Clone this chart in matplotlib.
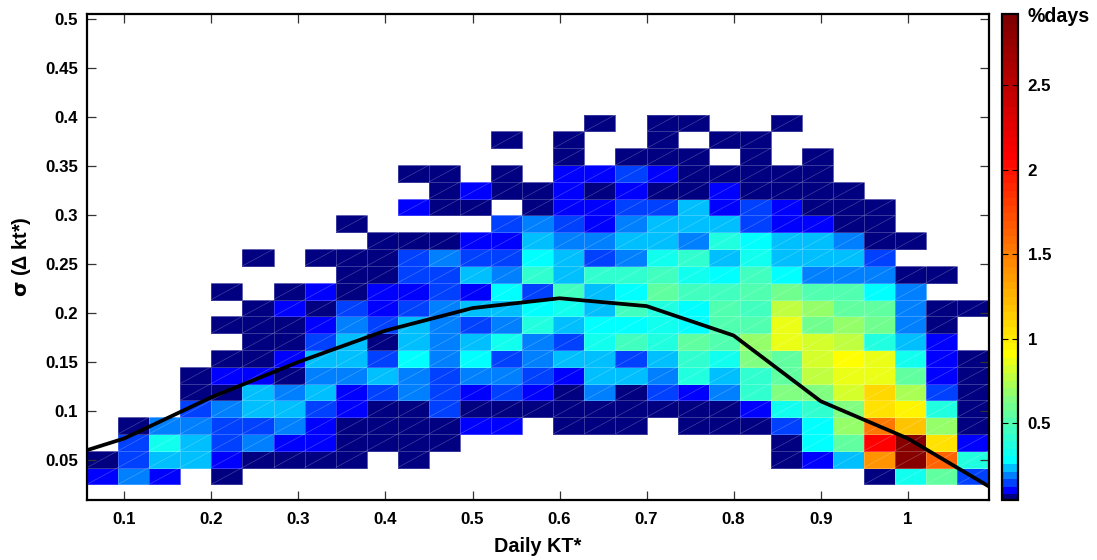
import numpy as np
import matplotlib
matplotlib.use("Agg")
import matplotlib.pyplot as plt
from matplotlib.colors import LinearSegmentedColormap
from matplotlib.collections import LineCollection

plt.rcParams['font.family'] = ['Liberation Sans', 'DejaVu Sans']
plt.rcParams['font.weight'] = 'bold'

n = np.nan
# %days per cell, one list per row of the grid, bottom row first
row00 = [.11,.20,.11,n,.07,n,n,n,n,n, n,n,n,n,n,n,n,n,n,n, n,n,n,n,n,.07,.34,.56,.16]
row01 = [.07,.16,.25,.25,.11,.07,.07,.07,.07,n, .07,n,n,n,n,n,n,n,n,n, n,n,.07,.11,.25,1.41,2.87,1.64,.38]
row02 = [n,.16,.34,.25,.16,.20,.11,.11,.07,.07, .07,.07,n,n,n,n,n,n,n,n, n,n,.07,.29,.56,2.09,2.87,1.06,.11]
row03 = [n,.07,.20,.20,.16,.16,.20,.11,.07,.07, .07,.07,.11,.11,n,.07,.07,.07,n,.07, .07,.07,.16,.29,.70,1.55,1.19,.70,.07]
row04 = [n,n,n,.16,.20,.25,.25,.16,.11,.07, .07,.16,.07,.07,.07,.07,.07,.07,.07,.07, .07,.11,.34,.43,.65,1.06,.97,.38,.07]
row05 = [n,n,n,.07,.07,.25,.20,.25,.11,.16, .20,.16,.11,.16,.11,.07,.20,.07,.16,.11, .20,.43,.65,.65,.83,1.10,.74,.16,.07]
row06 = [n,n,n,.07,.11,.11,.07,.20,.20,.25, .20,.16,.20,.20,.16,.11,.25,.25,.20,.38, .25,.43,.56,.79,.88,.88,.56,.11,.07]
row07 = [n,n,n,n,.07,.07,.11,.25,.25,.16, .29,.20,.29,.16,.20,.25,.25,.16,.25,.43, .34,.65,.56,.83,.92,.88,.34,.11,.07]
row08 = [n,n,n,n,n,.07,.07,.16,.25,.07, .25,.20,.25,.34,.20,.16,.34,.47,.38,.56, .52,.70,.88,.83,.79,.38,.25,.11,n]
row09 = [n,n,n,n,.07,.07,.07,.11,.20,.16, .25,.20,.16,.20,.38,.25,.29,.29,.34,.29, .52,.52,.88,.61,.70,.61,.20,.07,n]
row10 = [n,n,n,n,n,.07,.11,.07,.16,.11, .16,.20,.25,.25,.29,.34,.25,.47,.38,.29, .52,.47,.79,.70,.56,.56,.20,.07,.07]
row11 = [n,n,n,n,.07,n,.07,.11,.07,.11, .11,.16,.11,.29,.16,.47,.25,.29,.56,.47, .47,.52,.61,.52,.52,.29,.20,n,n]
row12 = [n,n,n,n,n,n,n,n,.07,.07, .16,.16,.25,.20,.43,.25,.43,.43,.47,.34, .29,.47,.29,.20,.20,.20,.07,.07,n]
row13 = [n,n,n,n,n,.07,n,.07,.07,.07, .16,.20,.16,.16,.29,.25,.16,.20,.34,.43, .25,.34,.25,.25,.25,.16,n,n,n]
row14 = [n,n,n,n,n,n,n,n,n,.07, .07,.07,.11,.11,.25,.20,.20,.25,.25,.20, .38,.29,.25,.25,.20,.07,.07,n,n]
row15 = [n,n,n,n,n,n,n,n,.07,n, n,n,n,.16,.20,.16,.11,.20,.25,.25, .25,.16,.11,.11,.07,.07,n,n,n]
row16 = [n,n,n,n,n,n,n,n,n,n, .11,.07,.07,n,.07,.11,.11,.16,.16,.25, .11,.16,.11,.07,.07,.07,n,n,n]
row17 = [n,n,n,n,n,n,n,n,n,n, n,.07,.11,.07,.07,.11,.07,.11,.07,.07, .11,.07,.07,.07,.07,n,n,n,n]
row18 = [n,n,n,n,n,n,n,n,n,n, .07,.07,n,.07,n,.11,.11,.16,.11,.07, .07,.07,.07,.07,n,n,n,n,n]
row19 = [n,n,n,n,n,n,n,n,n,n, n,n,n,n,n,.07,n,.07,.07,.07, n,.07,n,.07,n,n,n,n,n]
row20 = [n,n,n,n,n,n,n,n,n,n, n,n,n,.07,n,.07,n,n,.07,n, .07,.07,n,n,n,n,n,n,n]
row21 = [n,n,n,n,n,n,n,n,n,n, n,n,n,n,n,n,.07,n,.07,.07, n,n,.07,n,n,n,n,n,n]
rows = [row00, row01, row02, row03, row04, row05, row06, row07, row08, row09, row10,
        row11, row12, row13, row14, row15, row16, row17, row18, row19, row20, row21]

# mean curve
curve_x = [0.057, 0.1, 0.2, 0.3, 0.4, 0.5, 0.6, 0.7, 0.8, 0.9, 1.0, 1.0934]
curve_y = [0.060, 0.072, 0.114, 0.150, 0.182, 0.205, 0.215, 0.207, 0.177, 0.110, 0.072, 0.023]

xticks = [0.1, 0.2, 0.3, 0.4, 0.5, 0.6, 0.7, 0.8, 0.9, 1.0]
xticklabels = ['0.1', '0.2', '0.3', '0.4', '0.5', '0.6', '0.7', '0.8', '0.9', '1']
yticks = [0.05, 0.1, 0.15, 0.2, 0.25, 0.3, 0.35, 0.4, 0.45, 0.5]
yticklabels = ['0.05', '0.1', '0.15', '0.2', '0.25', '0.3', '0.35', '0.4', '0.45', '0.5']
cticks = [0.5, 1, 1.5, 2, 2.5]
cticklabels = ['0.5', '1', '1.5', '2', '2.5']

# jet-like map with the blues squeezed into the first few of 64 levels
nodes = [(0/63, (0, 0, 0.5)), (1/63, (0, 0, 1)), (2/63, (0, 0.25, 1)), (3/63, (0, 0.5, 1)),
         (4/63, (0, 0.75, 1)), (5/63, (0, 1, 1)), (13/63, (0.5, 1, 0.5)), (19/63, (1, 1, 0)),
         (45/63, (1, 0, 0)), (63/63, (0.5, 0, 0))]
cmap = LinearSegmentedColormap.from_list('days', nodes, N=64)

W, H = 1097, 560
fig = plt.figure(figsize=(W/100, H/100), dpi=100)
ax = fig.add_axes([87/W, 1-500/H, (989-87)/W, (500-14)/H])
cax = fig.add_axes([1002/W, 1-500/H, (1018-1002)/W, (500-14)/H])

z = np.ma.masked_invalid(np.array(rows))
x_edges = 0.2 + (np.arange(30) - 4) / 28.0
y_edges = 0.0252 + np.arange(23) * 0.01714

mesh = ax.pcolormesh(x_edges, y_edges, z, cmap=cmap, vmin=0.045, vmax=2.92,
                     edgecolors=(1, 1, 1, 0.22), linewidth=0.6)

# thin seams across the cells, as left by the triangulated surface
seams = []
for r in range(z.shape[0]):
    for c in range(z.shape[1]):
        if not z.mask[r, c]:
            seams.append([(x_edges[c], y_edges[r]), (x_edges[c+1], y_edges[r+1])])
ax.add_collection(LineCollection(seams, colors=[(1, 1, 1, 0.25)], linewidths=0.5))

ax.plot(curve_x, curve_y, color='k', linewidth=2.7, solid_joinstyle='round')

ax.set_xlim(0.0571, 1.0934)
ax.set_ylim(0.0092, 0.505)
ax.set_xticks(xticks)
ax.set_xticklabels(xticklabels)
ax.set_yticks(yticks)
ax.set_yticklabels(yticklabels)
ax.tick_params(direction='in', length=6.5, width=0.9, color='#333333', top=True, right=True,
               labelsize=12.2)
ax.tick_params(axis='x', pad=8.5)
ax.tick_params(axis='y', pad=6.5)
for s in ax.spines.values():
    s.set_linewidth(1.6)
ax.set_xlabel('Daily KT*', fontsize=14.3, fontweight='bold', labelpad=7)
ax.set_ylabel(r'$\mathrm{\sigma}$ (Δ kt*)', fontsize=14.3, fontweight='bold', labelpad=9)

cb = fig.colorbar(mesh, cax=cax, ticks=cticks)
cb.ax.set_yticklabels(cticklabels)
cb.ax.tick_params(direction='in', length=4, width=0.8, color='k', left=True, right=True,
                  labelsize=12.2, pad=7)
cb.outline.set_linewidth(1.6)
cb.solids.set_edgecolor('face')
fig.text(1028/W, 1-16/H, '%days', fontsize=14.1, fontweight='bold', va='center', ha='left')

fig.savefig('out.png', dpi=100)
